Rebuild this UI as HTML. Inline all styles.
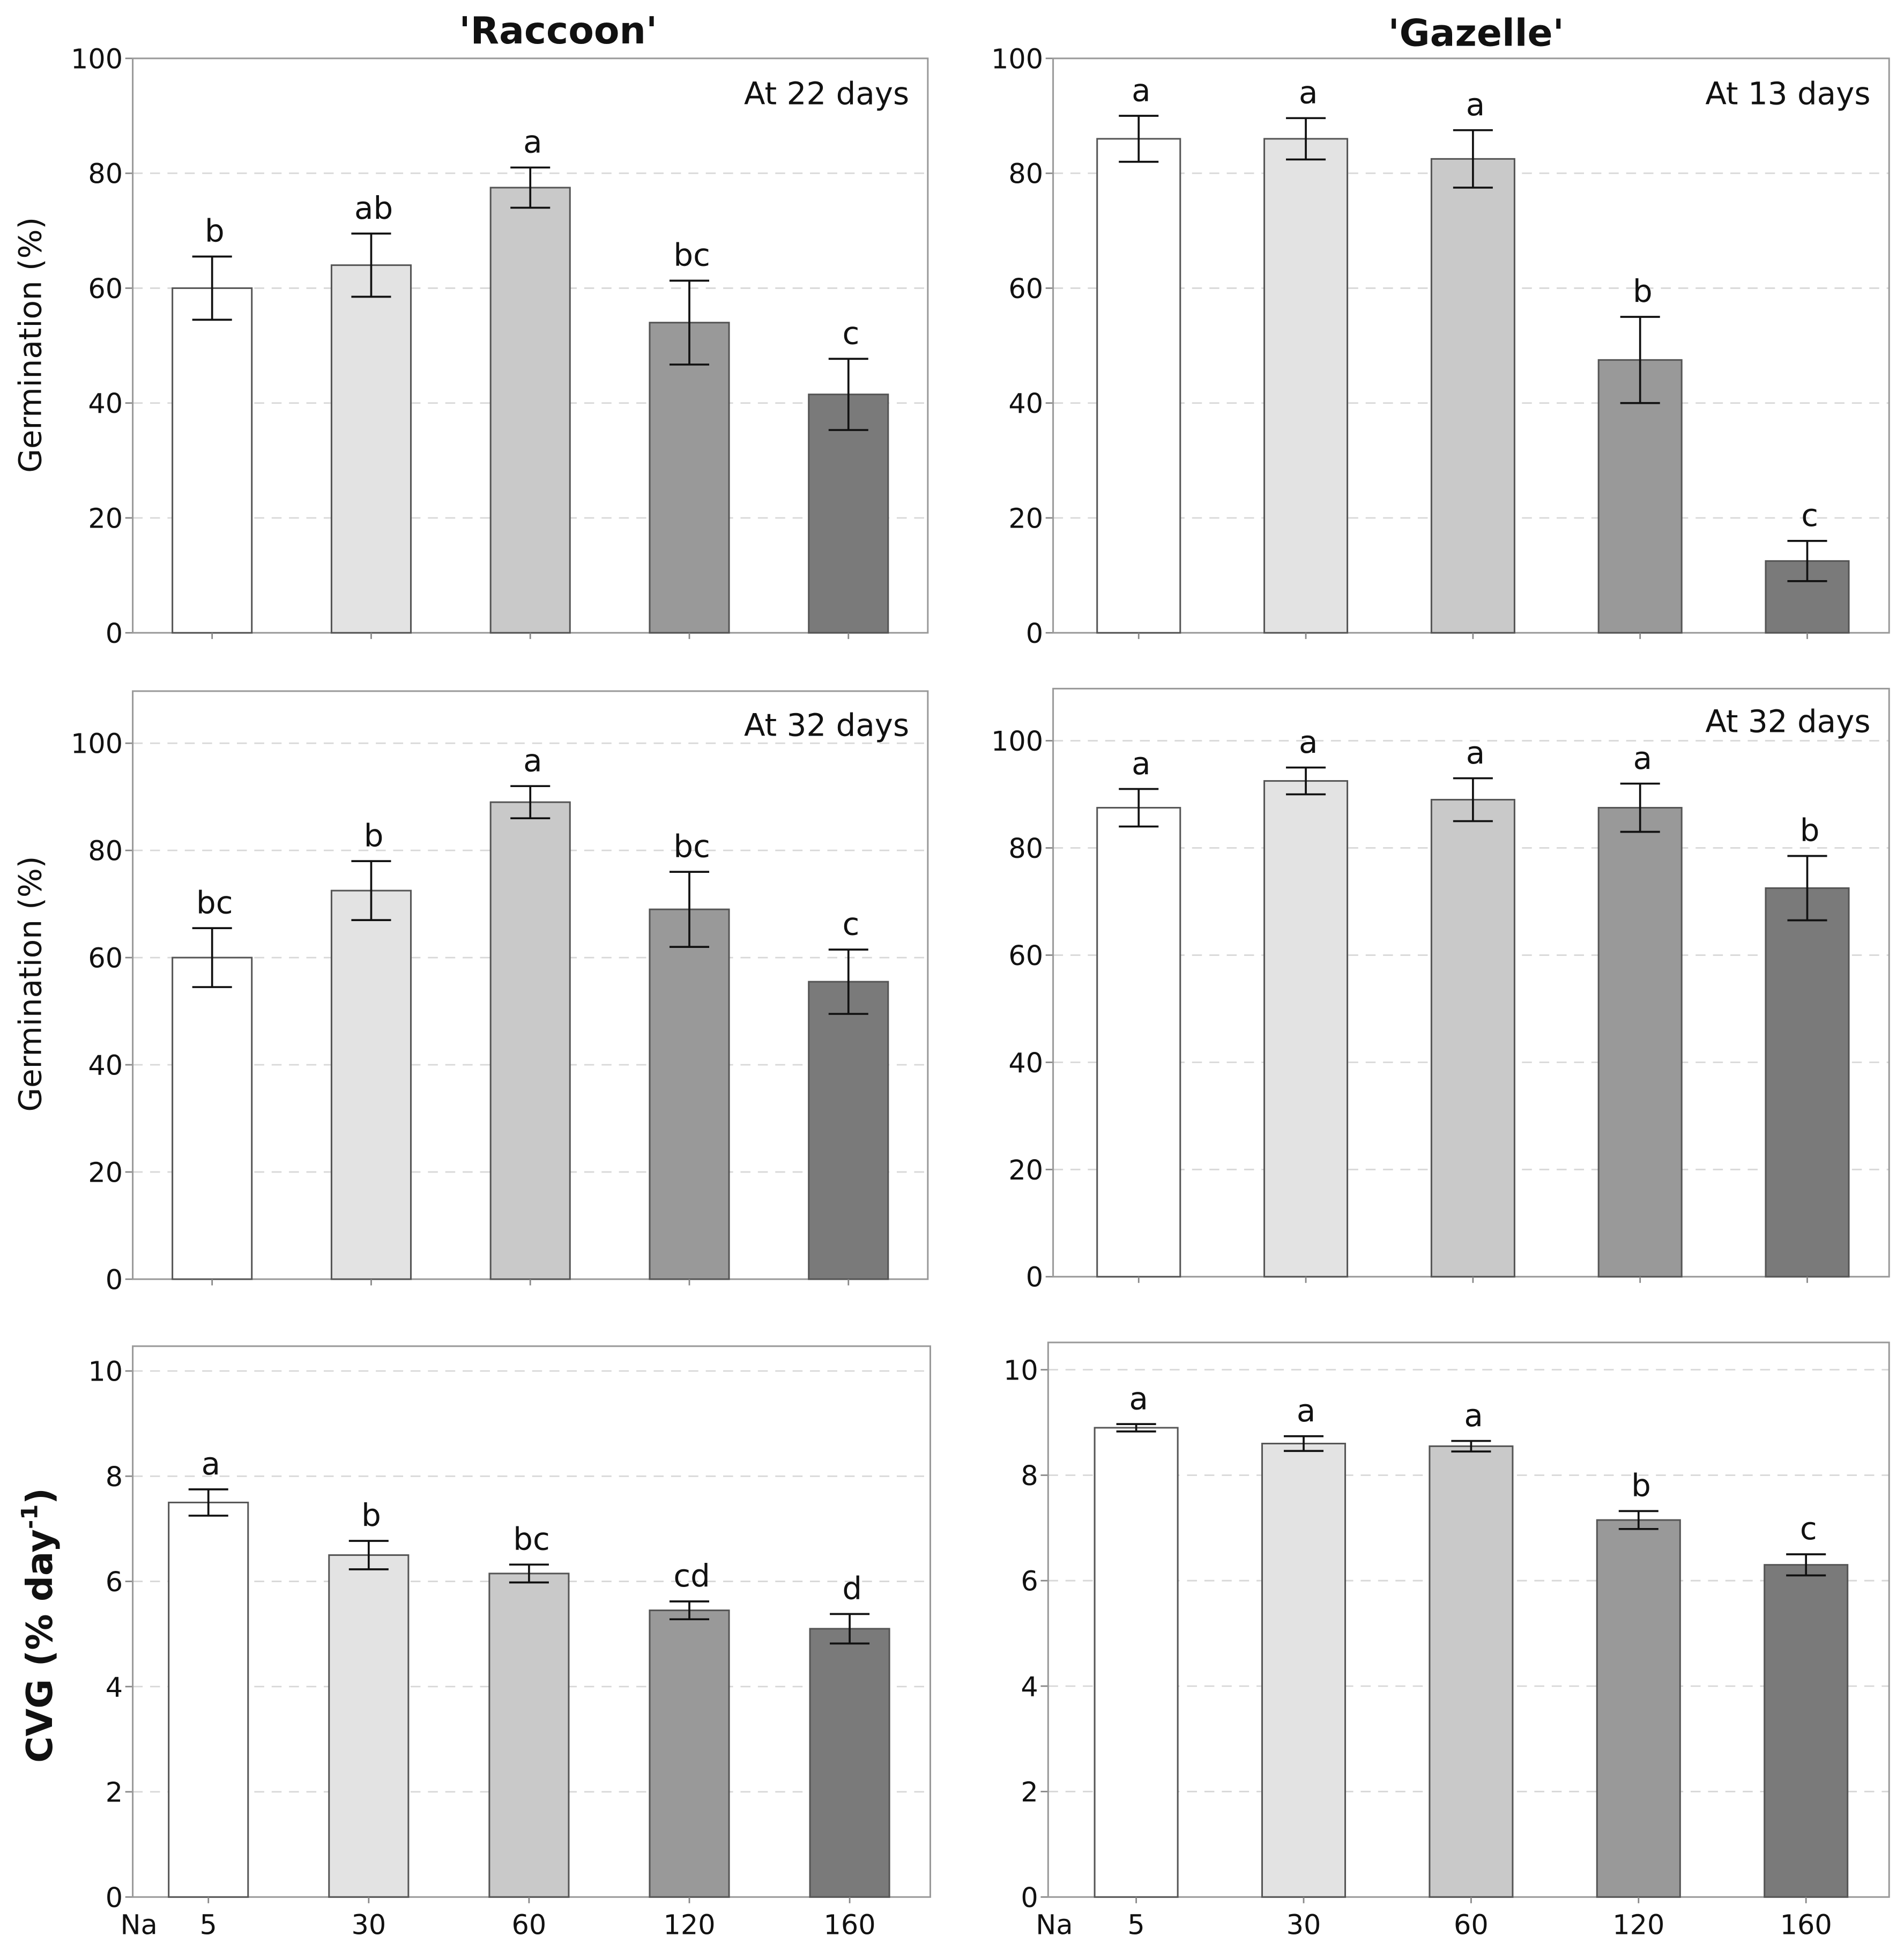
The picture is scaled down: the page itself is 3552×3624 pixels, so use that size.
<!DOCTYPE html>
<html><head><meta charset="utf-8"><style>
html,body{margin:0;padding:0;background:#fff}
svg{display:block}
text{font-family:"DejaVu Sans","Liberation Sans",sans-serif;fill:#111}
</style></head><body>
<svg id="fig" xmlns="http://www.w3.org/2000/svg" width="3552" height="3624" viewBox="0 0 1535 1566">
<rect x="0" y="0" width="1535" height="1566" fill="#fff"/>
<text x="450" y="35" font-size="30" font-weight="bold" text-anchor="middle">'Raccoon'</text>
<text x="1190" y="37" font-size="30" font-weight="bold" text-anchor="middle">'Gazelle'</text>
<text transform="translate(33,278) rotate(-90)" font-size="25" text-anchor="middle">Germination (%)</text>
<text transform="translate(33,793) rotate(-90)" font-size="25" text-anchor="middle">Germination (%)</text>
<text transform="translate(42,1310) rotate(-90)" font-size="29" font-weight="bold" text-anchor="middle">CVG (% day<tspan font-size="18" dy="-12">-1</tspan><tspan dy="12">)</tspan></text>
</svg>
<script>
const categories = ["5","30","60","120","160"];
const fills = ["#ffffff","#e3e3e3","#c9c9c9","#999999","#7a7a7a"];
const p1Values = [60,64,77.5,54,41.5];
const p1Err = [5.5,5.5,3.5,7.3,6.2];
const p1Letters = ["b","ab","a","bc","c"];
const p2Values = [86,86,82.5,47.5,12.5];
const p2Err = [4,3.6,5,7.5,3.5];
const p2Letters = ["a","a","a","b","c"];
const p3Values = [60,72.5,89,69,55.5];
const p3Err = [5.5,5.5,3,7,6];
const p3Letters = ["bc","b","a","bc","c"];
const p4Values = [87.5,92.5,89,87.5,72.5];
const p4Err = [3.5,2.5,4,4.5,6];
const p4Letters = ["a","a","a","a","b"];
const p5Values = [7.5,6.5,6.15,5.45,5.1];
const p5Err = [0.25,0.27,0.17,0.17,0.28];
const p5Letters = ["a","b","bc","cd","d"];
const p6Values = [8.9,8.6,8.55,7.15,6.3];
const p6Err = [0.07,0.14,0.1,0.17,0.2];
const p6Letters = ["a","a","a","b","c"];
const pctTicks = [0,20,40,60,80,100];
const cvgTicks = [0,2,4,6,8,10];

const NS="http://www.w3.org/2000/svg";
const svg=document.getElementById('fig');
function mk(tag,attrs,parent){const e=document.createElementNS(NS,tag);for(const k in attrs)e.setAttribute(k,attrs[k]);(parent||svg).appendChild(e);return e;}

function panel(cfg){
  const g=mk('g',{});
  
  
  const y=v=>cfg.y0-(v/cfg.vmax)*(cfg.y0-cfg.yTop);
  const x=i=>cfg.cx0+i*cfg.step;
  cfg.ticks.forEach(t=>{
    if(t>0){const gl=mk('line',{x1:cfg.fx0,x2:cfg.fx1,y1:y(t),y2:y(t),stroke:'#d8d8d8','stroke-width':1.2,'stroke-dasharray':'8,6'},g);
      
      }
    const tk=mk('line',{x1:cfg.fx0-6,x2:cfg.fx0,y1:y(t),y2:y(t),stroke:'#888','stroke-width':1.2},g);
    
    
    const tl=mk('text',{x:cfg.fx0-8,y:y(t)+8,'font-size':22,'text-anchor':'end'},g);
    tl.textContent=t;
    
    
  });
  const fr=mk('rect',{x:cfg.fx0,y:cfg.fy0,width:cfg.fx1-cfg.fx0,height:cfg.y0-cfg.fy0,fill:'none',stroke:'#999','stroke-width':1.3},g);
  
  
  cfg.values.forEach((v,i)=>{
    const cx=x(i);
    const b=mk('rect',{x:cx-cfg.bw/2,y:y(v),width:cfg.bw,height:cfg.y0-y(v),fill:fills[i],stroke:'#555','stroke-width':1.3},g);
    
    
    const tk=mk('line',{x1:cx,x2:cx,y1:cfg.y0,y2:cfg.y0+5,stroke:'#888','stroke-width':1.2},g);
    
    
    const e=cfg.err[i], hi=y(v+e), lo=y(v-e);
    const eb=mk('path',{d:`M${cx},${hi}V${lo}M${cx-16},${hi}H${cx+16}M${cx-16},${lo}H${cx+16}`,stroke:'#111','stroke-width':1.6,fill:'none'},g);
    
    
    const lt=mk('text',{x:cx+2,y:hi-12,'font-size':25,'text-anchor':'middle'},g);
    lt.textContent=cfg.letters[i];
    
    
    if(cfg.xlabels){
      const xl=mk('text',{x:cx,y:cfg.y0+30,'font-size':22,'text-anchor':'middle'},g);
      xl.textContent=categories[i];
      
      
    }
  });
  if(cfg.xlabels){
    const na=mk('text',{x:cfg.fx0+5,y:cfg.y0+30,'font-size':22,'text-anchor':'middle'},g);
    na.textContent='Na';
    
    
  }
  if(cfg.note){
    const n=mk('text',{x:cfg.fx1-15,y:cfg.noteY,'font-size':25,'text-anchor':'end'},g);
    n.textContent=cfg.note;
    
    
  }
}
panel({name:'raccoon-22-days-panel',values:p1Values,err:p1Err,letters:p1Letters,ticks:pctTicks,vmax:100,y0:510,yTop:47,fy0:47,fx0:107,fx1:748,cx0:171,step:128.25,bw:64,note:'At 22 days',noteY:84});
panel({name:'gazelle-13-days-panel',values:p2Values,err:p2Err,letters:p2Letters,ticks:pctTicks,vmax:100,y0:510,yTop:47,fy0:47,fx0:849,fx1:1523,cx0:918,step:134.75,bw:67,note:'At 13 days',noteY:84});
panel({name:'raccoon-32-days-panel',values:p3Values,err:p3Err,letters:p3Letters,ticks:pctTicks,vmax:100,y0:1031,yTop:599,fy0:557,fx0:107,fx1:748,cx0:171,step:128.25,bw:64,note:'At 32 days',noteY:593});
panel({name:'gazelle-32-days-panel',values:p4Values,err:p4Err,letters:p4Letters,ticks:pctTicks,vmax:100,y0:1029,yTop:597,fy0:555,fx0:849,fx1:1523,cx0:918,step:134.75,bw:67,note:'At 32 days',noteY:590});
panel({name:'raccoon-cvg-panel',values:p5Values,err:p5Err,letters:p5Letters,ticks:cvgTicks,vmax:10,y0:1529,yTop:1105,fy0:1085,fx0:107,fx1:750,cx0:168,step:129.25,bw:64,xlabels:true});
panel({name:'gazelle-cvg-panel',values:p6Values,err:p6Err,letters:p6Letters,ticks:cvgTicks,vmax:10,y0:1529,yTop:1104,fy0:1082,fx0:845,fx1:1523,cx0:916,step:135,bw:67,xlabels:true});
</script>
</body></html>
